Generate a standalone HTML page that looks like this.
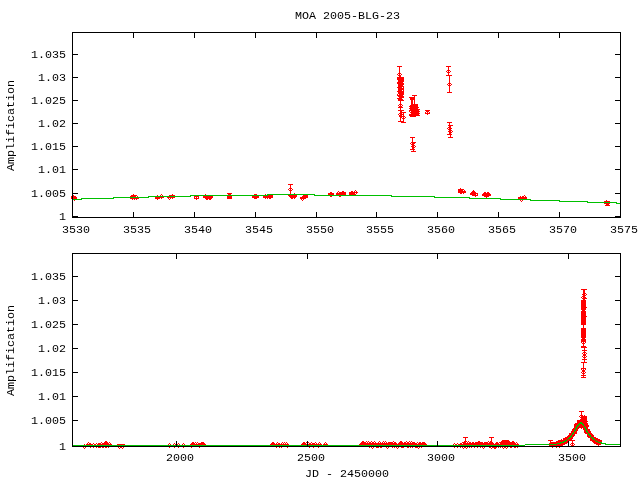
<!DOCTYPE html>
<html><head><meta charset="utf-8"><title>MOA 2005-BLG-23</title>
<style>
html,body{margin:0;padding:0;background:#fff;}
svg{display:block}
text{font-family:"Liberation Mono",monospace;font-size:11.6667px;fill:#000;}
</style></head><body>
<svg width="640" height="480" viewBox="0 0 640 480" shape-rendering="crispEdges">
<rect width="640" height="480" fill="#fff"/>
<path fill="#ff0000" d="M397 66h5v1h-5zM446 66h5v1h-5zM399 67h1v1h-1zM448 67h1v1h-1zM399 68h1v1h-1zM448 68h1v1h-1zM399 69h1v1h-1zM448 69h1v1h-1zM399 70h1v1h-1zM447 70h3v1h-3zM399 71h1v1h-1zM446 71h1v1h-1zM448 71h1v1h-1zM450 71h1v1h-1zM399 72h1v1h-1zM447 72h3v1h-3zM398 73h3v1h-3zM448 73h1v1h-1zM397 74h1v1h-1zM399 74h1v1h-1zM401 74h1v1h-1zM448 74h1v1h-1zM398 75h3v1h-3zM446 75h6v1h-6zM399 76h2v1h-2zM449 76h1v1h-1zM397 77h7v1h-7zM449 77h1v1h-1zM397 78h7v1h-7zM449 78h1v1h-1zM397 79h7v1h-7zM449 79h1v1h-1zM398 80h6v1h-6zM449 80h1v1h-1zM398 81h6v1h-6zM449 81h1v1h-1zM397 82h6v1h-6zM449 82h1v1h-1zM397 83h7v1h-7zM448 83h3v1h-3zM398 84h6v1h-6zM447 84h1v1h-1zM449 84h1v1h-1zM451 84h1v1h-1zM398 85h5v1h-5zM448 85h3v1h-3zM398 86h6v1h-6zM449 86h1v1h-1zM397 87h5v1h-5zM403 87h1v1h-1zM449 87h1v1h-1zM398 88h6v1h-6zM449 88h1v1h-1zM398 89h6v1h-6zM449 89h1v1h-1zM398 90h4v1h-4zM403 90h1v1h-1zM449 90h1v1h-1zM397 91h7v1h-7zM449 91h1v1h-1zM398 92h6v1h-6zM447 92h5v1h-5zM398 93h6v1h-6zM397 94h1v1h-1zM399 94h5v1h-5zM397 95h6v1h-6zM412 95h5v1h-5zM398 96h6v1h-6zM414 96h1v1h-1zM399 97h5v1h-5zM409 97h6v1h-6zM397 98h5v1h-5zM410 98h5v1h-5zM398 99h5v1h-5zM410 99h5v1h-5zM398 100h6v1h-6zM411 100h2v1h-2zM414 100h1v1h-1zM400 101h1v1h-1zM411 101h2v1h-2zM414 101h1v1h-1zM400 102h1v1h-1zM411 102h2v1h-2zM414 102h1v1h-1zM400 103h1v1h-1zM411 103h2v1h-2zM414 103h1v1h-1zM399 104h3v1h-3zM411 104h7v1h-7zM398 105h1v1h-1zM400 105h1v1h-1zM402 105h1v1h-1zM410 105h8v1h-8zM399 106h3v1h-3zM409 106h9v1h-9zM398 107h5v1h-5zM410 107h9v1h-9zM400 108h1v1h-1zM409 108h9v1h-9zM400 109h1v1h-1zM410 109h10v1h-10zM398 110h6v1h-6zM409 110h10v1h-10zM425 110h5v1h-5zM400 111h2v1h-2zM409 111h1v1h-1zM411 111h9v1h-9zM426 111h3v1h-3zM400 112h6v1h-6zM410 112h9v1h-9zM425 112h1v1h-1zM427 112h1v1h-1zM429 112h1v1h-1zM399 113h3v1h-3zM403 113h1v1h-1zM411 113h9v1h-9zM425 113h5v1h-5zM398 114h1v1h-1zM400 114h4v1h-4zM409 114h10v1h-10zM427 114h1v1h-1zM399 115h3v1h-3zM403 115h1v1h-1zM409 115h11v1h-11zM399 116h6v1h-6zM410 116h6v1h-6zM400 117h2v1h-2zM403 117h1v1h-1zM405 117h1v1h-1zM400 118h1v1h-1zM402 118h3v1h-3zM400 119h1v1h-1zM403 119h1v1h-1zM400 120h1v1h-1zM403 120h1v1h-1zM398 121h6v1h-6zM401 122h5v1h-5zM447 122h5v1h-5zM449 123h1v1h-1zM449 124h1v1h-1zM448 125h5v1h-5zM449 126h2v1h-2zM448 127h3v1h-3zM447 128h1v1h-1zM449 128h3v1h-3zM448 129h3v1h-3zM449 130h3v1h-3zM448 131h3v1h-3zM452 131h1v1h-1zM449 132h3v1h-3zM449 133h2v1h-2zM447 134h5v1h-5zM450 135h1v1h-1zM450 136h1v1h-1zM410 137h5v1h-5zM448 137h5v1h-5zM412 138h1v1h-1zM412 139h1v1h-1zM412 140h1v1h-1zM412 141h1v1h-1zM411 142h5v1h-5zM410 143h1v1h-1zM412 143h3v1h-3zM411 144h3v1h-3zM412 145h3v1h-3zM411 146h3v1h-3zM415 146h1v1h-1zM412 147h3v1h-3zM412 148h2v1h-2zM410 149h5v1h-5zM413 150h1v1h-1zM411 151h5v1h-5zM288 184h5v1h-5zM290 185h1v1h-1zM290 186h1v1h-1zM290 187h1v1h-1zM289 188h3v1h-3zM460 188h1v1h-1zM288 189h1v1h-1zM290 189h1v1h-1zM292 189h1v1h-1zM458 189h6v1h-6zM289 190h3v1h-3zM355 190h1v1h-1zM458 190h5v1h-5zM464 190h1v1h-1zM473 190h1v1h-1zM290 191h1v1h-1zM338 191h1v1h-1zM342 191h2v1h-2zM351 191h2v1h-2zM354 191h1v1h-1zM356 191h1v1h-1zM458 191h8v1h-8zM472 191h3v1h-3zM290 192h1v1h-1zM330 192h2v1h-2zM337 192h1v1h-1zM339 192h7v1h-7zM349 192h9v1h-9zM458 192h8v1h-8zM471 192h5v1h-5zM484 192h2v1h-2zM487 192h2v1h-2zM227 193h5v1h-5zM290 193h1v1h-1zM294 193h1v1h-1zM328 193h6v1h-6zM336 193h10v1h-10zM349 193h6v1h-6zM356 193h1v1h-1zM460 193h2v1h-2zM463 193h1v1h-1zM470 193h8v1h-8zM483 193h7v1h-7zM133 194h1v1h-1zM161 194h1v1h-1zM172 194h1v1h-1zM205 194h1v1h-1zM228 194h3v1h-3zM254 194h3v1h-3zM265 194h1v1h-1zM328 194h6v1h-6zM336 194h10v1h-10zM349 194h7v1h-7zM470 194h6v1h-6zM477 194h1v1h-1zM482 194h9v1h-9zM73 195h1v1h-1zM131 195h6v1h-6zM157 195h1v1h-1zM160 195h1v1h-1zM162 195h1v1h-1zM169 195h6v1h-6zM268 195h5v1h-5zM288 195h9v1h-9zM303 195h5v1h-5zM472 195h6v1h-6zM482 195h9v1h-9zM524 195h1v1h-1zM71 196h1v1h-1zM73 196h3v1h-3zM130 196h6v1h-6zM137 196h1v1h-1zM194 196h5v1h-5zM203 196h10v1h-10zM227 196h5v1h-5zM252 196h7v1h-7zM263 196h10v1h-10zM289 196h8v1h-8zM302 196h6v1h-6zM330 196h2v1h-2zM339 196h2v1h-2zM475 196h1v1h-1zM484 196h5v1h-5zM520 196h1v1h-1zM522 196h2v1h-2zM525 196h1v1h-1zM71 197h1v1h-1zM73 197h4v1h-4zM155 197h9v1h-9zM167 197h8v1h-8zM194 197h1v1h-1zM196 197h1v1h-1zM198 197h1v1h-1zM203 197h10v1h-10zM227 197h5v1h-5zM252 197h7v1h-7zM263 197h10v1h-10zM290 197h6v1h-6zM300 197h8v1h-8zM486 197h1v1h-1zM518 197h9v1h-9zM71 198h1v1h-1zM73 198h4v1h-4zM130 198h9v1h-9zM155 198h5v1h-5zM161 198h1v1h-1zM168 198h1v1h-1zM170 198h1v1h-1zM172 198h1v1h-1zM194 198h5v1h-5zM205 198h7v1h-7zM227 198h5v1h-5zM254 198h3v1h-3zM265 198h1v1h-1zM267 198h1v1h-1zM269 198h2v1h-2zM291 198h2v1h-2zM294 198h1v1h-1zM300 198h6v1h-6zM518 198h9v1h-9zM132 199h1v1h-1zM134 199h1v1h-1zM136 199h1v1h-1zM157 199h1v1h-1zM169 199h1v1h-1zM196 199h1v1h-1zM206 199h2v1h-2zM209 199h2v1h-2zM301 199h1v1h-1zM303 199h1v1h-1zM74 200h1v1h-1zM302 200h1v1h-1zM520 200h1v1h-1zM522 200h1v1h-1zM606 200h1v1h-1zM521 201h1v1h-1zM604 201h6v1h-6zM604 203h6v1h-6zM606 204h3v1h-3zM605 205h5v1h-5zM581 289h6v1h-6zM583 290h2v1h-2zM583 291h2v1h-2zM583 292h2v1h-2zM583 293h3v1h-3zM582 294h3v1h-3zM586 294h1v1h-1zM583 295h3v1h-3zM582 296h3v1h-3zM581 297h1v1h-1zM583 297h3v1h-3zM582 298h5v1h-5zM583 299h2v1h-2zM581 300h5v1h-5zM581 301h5v1h-5zM581 302h5v1h-5zM581 303h5v1h-5zM581 304h5v1h-5zM581 305h5v1h-5zM581 306h5v1h-5zM581 307h6v1h-6zM581 308h5v1h-5zM581 309h5v1h-5zM582 310h3v1h-3zM581 311h5v1h-5zM581 312h5v1h-5zM581 313h5v1h-5zM581 314h5v1h-5zM581 315h5v1h-5zM581 316h6v1h-6zM581 317h5v1h-5zM581 318h5v1h-5zM581 319h5v1h-5zM581 320h5v1h-5zM581 321h5v1h-5zM581 322h5v1h-5zM581 323h5v1h-5zM581 324h5v1h-5zM583 325h1v1h-1zM583 326h1v1h-1zM583 327h1v1h-1zM581 328h5v1h-5zM581 329h5v1h-5zM581 330h5v1h-5zM581 331h5v1h-5zM581 332h5v1h-5zM581 333h5v1h-5zM581 334h5v1h-5zM581 335h5v1h-5zM581 336h5v1h-5zM581 337h5v1h-5zM582 338h3v1h-3zM581 339h5v1h-5zM581 340h5v1h-5zM581 341h5v1h-5zM581 342h1v1h-1zM583 342h1v1h-1zM585 342h1v1h-1zM582 343h3v1h-3zM583 344h1v1h-1zM583 345h1v1h-1zM581 346h5v1h-5zM581 347h6v1h-6zM584 348h1v1h-1zM584 349h1v1h-1zM582 350h5v1h-5zM584 351h1v1h-1zM583 352h3v1h-3zM582 353h1v1h-1zM584 353h1v1h-1zM586 353h1v1h-1zM583 354h3v1h-3zM583 355h3v1h-3zM582 356h1v1h-1zM584 356h1v1h-1zM586 356h1v1h-1zM583 357h3v1h-3zM584 358h1v1h-1zM582 359h5v1h-5zM584 360h1v1h-1zM584 361h1v1h-1zM581 362h6v1h-6zM583 363h1v1h-1zM583 364h1v1h-1zM583 365h1v1h-1zM583 366h1v1h-1zM583 367h1v1h-1zM581 368h5v1h-5zM581 369h1v1h-1zM583 369h1v1h-1zM585 369h1v1h-1zM582 370h3v1h-3zM582 371h3v1h-3zM581 372h1v1h-1zM583 372h1v1h-1zM585 372h1v1h-1zM582 373h3v1h-3zM583 374h1v1h-1zM581 375h5v1h-5zM583 376h1v1h-1zM581 377h5v1h-5zM579 411h5v1h-5zM581 412h1v1h-1zM581 413h1v1h-1zM581 414h1v1h-1zM580 415h3v1h-3zM584 415h1v1h-1zM579 416h1v1h-1zM581 416h6v1h-6zM580 417h7v1h-7zM581 418h6v1h-6zM580 419h7v1h-7zM577 420h10v1h-10zM577 421h11v1h-11zM577 422h3v1h-3zM582 422h5v1h-5zM575 423h4v1h-4zM583 423h5v1h-5zM574 424h4v1h-4zM580 424h2v1h-2zM584 424h4v1h-4zM574 425h3v1h-3zM579 425h4v1h-4zM584 425h5v1h-5zM574 426h2v1h-2zM578 426h6v1h-6zM585 426h4v1h-4zM574 427h2v1h-2zM577 427h7v1h-7zM586 427h2v1h-2zM573 428h2v1h-2zM577 428h2v1h-2zM581 428h1v1h-1zM583 428h2v1h-2zM586 428h2v1h-2zM572 429h3v1h-3zM576 429h2v1h-2zM583 429h2v1h-2zM587 429h3v1h-3zM572 430h2v1h-2zM576 430h2v1h-2zM584 430h2v1h-2zM587 430h3v1h-3zM571 431h3v1h-3zM575 431h2v1h-2zM584 431h2v1h-2zM588 431h3v1h-3zM571 432h2v1h-2zM574 432h3v1h-3zM584 432h3v1h-3zM588 432h3v1h-3zM569 433h3v1h-3zM574 433h3v1h-3zM585 433h3v1h-3zM589 433h3v1h-3zM569 434h3v1h-3zM573 434h2v1h-2zM587 434h1v1h-1zM590 434h3v1h-3zM568 435h3v1h-3zM572 435h3v1h-3zM587 435h2v1h-2zM591 435h3v1h-3zM567 436h3v1h-3zM572 436h2v1h-2zM587 436h3v1h-3zM591 436h3v1h-3zM463 437h5v1h-5zM489 437h5v1h-5zM565 437h4v1h-4zM571 437h2v1h-2zM588 437h3v1h-3zM593 437h3v1h-3zM465 438h1v1h-1zM491 438h1v1h-1zM563 438h5v1h-5zM570 438h3v1h-3zM590 438h2v1h-2zM594 438h4v1h-4zM465 439h1v1h-1zM491 439h1v1h-1zM561 439h1v1h-1zM563 439h4v1h-4zM568 439h4v1h-4zM590 439h3v1h-3zM595 439h5v1h-5zM465 440h1v1h-1zM491 440h1v1h-1zM502 440h7v1h-7zM548 440h5v1h-5zM558 440h7v1h-7zM567 440h8v1h-8zM590 440h5v1h-5zM596 440h6v1h-6zM105 441h2v1h-2zM362 441h2v1h-2zM366 441h1v1h-1zM368 441h1v1h-1zM371 441h1v1h-1zM374 441h1v1h-1zM379 441h1v1h-1zM383 441h1v1h-1zM385 441h1v1h-1zM393 441h1v1h-1zM400 441h2v1h-2zM406 441h1v1h-1zM409 441h1v1h-1zM411 441h1v1h-1zM464 441h3v1h-3zM468 441h1v1h-1zM478 441h2v1h-2zM488 441h1v1h-1zM490 441h2v1h-2zM501 441h9v1h-9zM512 441h2v1h-2zM550 441h1v1h-1zM556 441h7v1h-7zM566 441h2v1h-2zM572 441h1v1h-1zM592 441h4v1h-4zM598 441h4v1h-4zM88 442h1v1h-1zM101 442h1v1h-1zM104 442h4v1h-4zM109 442h1v1h-1zM192 442h2v1h-2zM195 442h1v1h-1zM197 442h1v1h-1zM201 442h3v1h-3zM272 442h2v1h-2zM277 442h1v1h-1zM282 442h1v1h-1zM284 442h1v1h-1zM286 442h1v1h-1zM303 442h2v1h-2zM306 442h1v1h-1zM308 442h1v1h-1zM311 442h1v1h-1zM315 442h1v1h-1zM319 442h1v1h-1zM325 442h1v1h-1zM361 442h5v1h-5zM367 442h1v1h-1zM369 442h2v1h-2zM372 442h2v1h-2zM375 442h1v1h-1zM378 442h1v1h-1zM380 442h1v1h-1zM382 442h1v1h-1zM384 442h1v1h-1zM386 442h1v1h-1zM388 442h5v1h-5zM394 442h2v1h-2zM399 442h4v1h-4zM404 442h2v1h-2zM407 442h2v1h-2zM410 442h1v1h-1zM412 442h3v1h-3zM417 442h1v1h-1zM419 442h2v1h-2zM422 442h3v1h-3zM462 442h4v1h-4zM467 442h1v1h-1zM469 442h2v1h-2zM472 442h2v1h-2zM475 442h8v1h-8zM484 442h4v1h-4zM489 442h4v1h-4zM496 442h2v1h-2zM499 442h16v1h-16zM516 442h1v1h-1zM550 442h10v1h-10zM564 442h4v1h-4zM572 442h1v1h-1zM593 442h5v1h-5zM87 443h1v1h-1zM89 443h2v1h-2zM93 443h1v1h-1zM96 443h1v1h-1zM98 443h3v1h-3zM102 443h7v1h-7zM110 443h1v1h-1zM169 443h1v1h-1zM174 443h1v1h-1zM178 443h1v1h-1zM183 443h1v1h-1zM191 443h4v1h-4zM196 443h1v1h-1zM198 443h7v1h-7zM271 443h4v1h-4zM276 443h1v1h-1zM278 443h2v1h-2zM281 443h1v1h-1zM283 443h1v1h-1zM285 443h1v1h-1zM287 443h1v1h-1zM302 443h4v1h-4zM309 443h2v1h-2zM312 443h3v1h-3zM316 443h1v1h-1zM318 443h1v1h-1zM320 443h1v1h-1zM324 443h1v1h-1zM326 443h1v1h-1zM360 443h37v1h-37zM398 443h19v1h-19zM418 443h8v1h-8zM454 443h1v1h-1zM457 443h1v1h-1zM460 443h2v1h-2zM463 443h31v1h-31zM495 443h4v1h-4zM500 443h16v1h-16zM517 443h1v1h-1zM549 443h8v1h-8zM561 443h6v1h-6zM571 443h3v1h-3zM594 443h7v1h-7zM84 444h1v1h-1zM86 444h7v1h-7zM94 444h2v1h-2zM97 444h15v1h-15zM117 444h8v1h-8zM168 444h1v1h-1zM170 444h1v1h-1zM173 444h1v1h-1zM175 444h1v1h-1zM177 444h1v1h-1zM179 444h1v1h-1zM182 444h1v1h-1zM184 444h1v1h-1zM190 444h16v1h-16zM270 444h19v1h-19zM301 444h6v1h-6zM308 444h14v1h-14zM323 444h5v1h-5zM359 444h68v1h-68zM453 444h1v1h-1zM455 444h2v1h-2zM458 444h61v1h-61zM557 444h8v1h-8zM570 444h1v1h-1zM572 444h1v1h-1zM574 444h1v1h-1zM596 444h5v1h-5zM549 445h14v1h-14zM571 445h3v1h-3zM598 445h1v1h-1zM83 447h1v1h-1zM85 447h1v1h-1zM90 447h1v1h-1zM93 447h1v1h-1zM96 447h1v1h-1zM98 447h3v1h-3zM102 447h2v1h-2zM105 447h2v1h-2zM108 447h1v1h-1zM118 447h1v1h-1zM120 447h2v1h-2zM123 447h1v1h-1zM169 447h1v1h-1zM174 447h1v1h-1zM178 447h1v1h-1zM183 447h1v1h-1zM191 447h1v1h-1zM199 447h1v1h-1zM276 447h1v1h-1zM279 447h1v1h-1zM281 447h1v1h-1zM287 447h1v1h-1zM309 447h1v1h-1zM313 447h1v1h-1zM318 447h1v1h-1zM369 447h1v1h-1zM371 447h1v1h-1zM373 447h1v1h-1zM376 447h3v1h-3zM380 447h2v1h-2zM386 447h1v1h-1zM388 447h1v1h-1zM392 447h1v1h-1zM394 447h1v1h-1zM396 447h1v1h-1zM398 447h1v1h-1zM401 447h3v1h-3zM407 447h2v1h-2zM410 447h1v1h-1zM412 447h1v1h-1zM415 447h3v1h-3zM419 447h1v1h-1zM421 447h1v1h-1zM454 447h1v1h-1zM457 447h1v1h-1zM460 447h1v1h-1zM462 447h1v1h-1zM464 447h2v1h-2zM467 447h1v1h-1zM469 447h1v1h-1zM471 447h1v1h-1zM474 447h1v1h-1zM477 447h1v1h-1zM480 447h1v1h-1zM482 447h1v1h-1zM484 447h1v1h-1zM489 447h2v1h-2zM492 447h5v1h-5zM498 447h1v1h-1zM500 447h1v1h-1zM502 447h1v1h-1zM504 447h2v1h-2zM507 447h1v1h-1zM510 447h2v1h-2zM514 447h2v1h-2zM517 447h1v1h-1zM552 447h1v1h-1zM556 447h1v1h-1zM559 447h1v1h-1zM84 448h1v1h-1zM119 448h1v1h-1zM122 448h1v1h-1zM372 448h1v1h-1zM387 448h1v1h-1zM397 448h1v1h-1zM418 448h1v1h-1zM463 448h1v1h-1zM466 448h1v1h-1zM483 448h1v1h-1zM491 448h1v1h-1zM494 448h2v1h-2zM503 448h1v1h-1zM506 448h1v1h-1z"/>
<path fill="#00c000" d="M267 194h48v1h-48zM190 195h78v1h-78zM314 195h78v1h-78zM148 196h43v1h-43zM391 196h44v1h-44zM113 197h36v1h-36zM434 197h36v1h-36zM81 198h33v1h-33zM469 198h32v1h-32zM73 199h9v1h-9zM500 199h31v1h-31zM530 200h30v1h-30zM559 201h29v1h-29zM587 202h30v1h-30zM616 203h4v1h-4zM580 422h2v1h-2zM579 423h4v1h-4zM578 424h2v1h-2zM582 424h2v1h-2zM577 425h2v1h-2zM583 425h1v1h-1zM576 426h2v1h-2zM584 426h1v1h-1zM576 427h1v1h-1zM584 427h2v1h-2zM575 428h2v1h-2zM585 428h1v1h-1zM575 429h1v1h-1zM585 429h2v1h-2zM574 430h2v1h-2zM586 430h1v1h-1zM574 431h1v1h-1zM586 431h2v1h-2zM573 432h1v1h-1zM587 432h1v1h-1zM572 433h2v1h-2zM588 433h1v1h-1zM572 434h1v1h-1zM588 434h2v1h-2zM571 435h1v1h-1zM589 435h2v1h-2zM570 436h2v1h-2zM590 436h1v1h-1zM569 437h2v1h-2zM591 437h2v1h-2zM568 438h2v1h-2zM592 438h2v1h-2zM567 439h1v1h-1zM593 439h2v1h-2zM565 440h2v1h-2zM595 440h1v1h-1zM563 441h3v1h-3zM596 441h2v1h-2zM560 442h4v1h-4zM598 442h4v1h-4zM557 443h4v1h-4zM601 443h5v1h-5zM525 444h32v1h-32zM605 444h15v1h-15zM73 445h103v1h-103zM177 445h130v1h-130zM308 445h129v1h-129zM438 445h87v1h-87z"/>
<path fill="#000000" d="M72 32h549v1h-549zM72 33h1v1h-1zM133 33h1v1h-1zM194 33h1v1h-1zM255 33h1v1h-1zM316 33h1v1h-1zM376 33h1v1h-1zM437 33h1v1h-1zM498 33h1v1h-1zM559 33h1v1h-1zM620 33h1v1h-1zM72 34h1v1h-1zM133 34h1v1h-1zM194 34h1v1h-1zM255 34h1v1h-1zM316 34h1v1h-1zM376 34h1v1h-1zM437 34h1v1h-1zM498 34h1v1h-1zM559 34h1v1h-1zM620 34h1v1h-1zM72 35h1v1h-1zM133 35h1v1h-1zM194 35h1v1h-1zM255 35h1v1h-1zM316 35h1v1h-1zM376 35h1v1h-1zM437 35h1v1h-1zM498 35h1v1h-1zM559 35h1v1h-1zM620 35h1v1h-1zM72 36h1v1h-1zM133 36h1v1h-1zM194 36h1v1h-1zM255 36h1v1h-1zM316 36h1v1h-1zM376 36h1v1h-1zM437 36h1v1h-1zM498 36h1v1h-1zM559 36h1v1h-1zM620 36h1v1h-1zM72 37h1v1h-1zM133 37h1v1h-1zM194 37h1v1h-1zM255 37h1v1h-1zM316 37h1v1h-1zM376 37h1v1h-1zM437 37h1v1h-1zM498 37h1v1h-1zM559 37h1v1h-1zM620 37h1v1h-1zM72 38h1v1h-1zM620 38h1v1h-1zM72 39h1v1h-1zM620 39h1v1h-1zM72 40h1v1h-1zM620 40h1v1h-1zM72 41h1v1h-1zM620 41h1v1h-1zM72 42h1v1h-1zM620 42h1v1h-1zM72 43h1v1h-1zM620 43h1v1h-1zM72 44h1v1h-1zM620 44h1v1h-1zM72 45h1v1h-1zM620 45h1v1h-1zM72 46h1v1h-1zM620 46h1v1h-1zM72 47h1v1h-1zM620 47h1v1h-1zM72 48h1v1h-1zM620 48h1v1h-1zM72 49h1v1h-1zM620 49h1v1h-1zM72 50h1v1h-1zM620 50h1v1h-1zM72 51h1v1h-1zM620 51h1v1h-1zM72 52h1v1h-1zM620 52h1v1h-1zM72 53h1v1h-1zM620 53h1v1h-1zM72 54h6v1h-6zM615 54h6v1h-6zM72 55h1v1h-1zM620 55h1v1h-1zM72 56h1v1h-1zM620 56h1v1h-1zM72 57h1v1h-1zM620 57h1v1h-1zM72 58h1v1h-1zM620 58h1v1h-1zM72 59h1v1h-1zM620 59h1v1h-1zM72 60h1v1h-1zM620 60h1v1h-1zM72 61h1v1h-1zM620 61h1v1h-1zM72 62h1v1h-1zM620 62h1v1h-1zM72 63h1v1h-1zM620 63h1v1h-1zM72 64h1v1h-1zM620 64h1v1h-1zM72 65h1v1h-1zM620 65h1v1h-1zM72 66h1v1h-1zM620 66h1v1h-1zM72 67h1v1h-1zM620 67h1v1h-1zM72 68h1v1h-1zM620 68h1v1h-1zM72 69h1v1h-1zM620 69h1v1h-1zM72 70h1v1h-1zM620 70h1v1h-1zM72 71h1v1h-1zM620 71h1v1h-1zM72 72h1v1h-1zM620 72h1v1h-1zM72 73h1v1h-1zM620 73h1v1h-1zM72 74h1v1h-1zM620 74h1v1h-1zM72 75h1v1h-1zM620 75h1v1h-1zM72 76h1v1h-1zM620 76h1v1h-1zM72 77h6v1h-6zM615 77h6v1h-6zM72 78h1v1h-1zM620 78h1v1h-1zM72 79h1v1h-1zM620 79h1v1h-1zM72 80h1v1h-1zM620 80h1v1h-1zM72 81h1v1h-1zM620 81h1v1h-1zM72 82h1v1h-1zM620 82h1v1h-1zM72 83h1v1h-1zM620 83h1v1h-1zM72 84h1v1h-1zM620 84h1v1h-1zM72 85h1v1h-1zM620 85h1v1h-1zM72 86h1v1h-1zM620 86h1v1h-1zM72 87h1v1h-1zM620 87h1v1h-1zM72 88h1v1h-1zM620 88h1v1h-1zM72 89h1v1h-1zM620 89h1v1h-1zM72 90h1v1h-1zM620 90h1v1h-1zM72 91h1v1h-1zM620 91h1v1h-1zM72 92h1v1h-1zM620 92h1v1h-1zM72 93h1v1h-1zM620 93h1v1h-1zM72 94h1v1h-1zM620 94h1v1h-1zM72 95h1v1h-1zM620 95h1v1h-1zM72 96h1v1h-1zM620 96h1v1h-1zM72 97h1v1h-1zM620 97h1v1h-1zM72 98h1v1h-1zM620 98h1v1h-1zM72 99h1v1h-1zM620 99h1v1h-1zM72 100h6v1h-6zM615 100h6v1h-6zM72 101h1v1h-1zM620 101h1v1h-1zM72 102h1v1h-1zM620 102h1v1h-1zM72 103h1v1h-1zM620 103h1v1h-1zM72 104h1v1h-1zM620 104h1v1h-1zM72 105h1v1h-1zM620 105h1v1h-1zM72 106h1v1h-1zM620 106h1v1h-1zM72 107h1v1h-1zM620 107h1v1h-1zM72 108h1v1h-1zM620 108h1v1h-1zM72 109h1v1h-1zM620 109h1v1h-1zM72 110h1v1h-1zM620 110h1v1h-1zM72 111h1v1h-1zM620 111h1v1h-1zM72 112h1v1h-1zM620 112h1v1h-1zM72 113h1v1h-1zM620 113h1v1h-1zM72 114h1v1h-1zM620 114h1v1h-1zM72 115h1v1h-1zM620 115h1v1h-1zM72 116h1v1h-1zM620 116h1v1h-1zM72 117h1v1h-1zM620 117h1v1h-1zM72 118h1v1h-1zM620 118h1v1h-1zM72 119h1v1h-1zM620 119h1v1h-1zM72 120h1v1h-1zM620 120h1v1h-1zM72 121h1v1h-1zM620 121h1v1h-1zM72 122h1v1h-1zM620 122h1v1h-1zM72 123h6v1h-6zM615 123h6v1h-6zM72 124h1v1h-1zM620 124h1v1h-1zM72 125h1v1h-1zM620 125h1v1h-1zM72 126h1v1h-1zM620 126h1v1h-1zM72 127h1v1h-1zM620 127h1v1h-1zM72 128h1v1h-1zM620 128h1v1h-1zM72 129h1v1h-1zM620 129h1v1h-1zM72 130h1v1h-1zM620 130h1v1h-1zM72 131h1v1h-1zM620 131h1v1h-1zM72 132h1v1h-1zM620 132h1v1h-1zM72 133h1v1h-1zM620 133h1v1h-1zM72 134h1v1h-1zM620 134h1v1h-1zM72 135h1v1h-1zM620 135h1v1h-1zM72 136h1v1h-1zM620 136h1v1h-1zM72 137h1v1h-1zM620 137h1v1h-1zM72 138h1v1h-1zM620 138h1v1h-1zM72 139h1v1h-1zM620 139h1v1h-1zM72 140h1v1h-1zM620 140h1v1h-1zM72 141h1v1h-1zM620 141h1v1h-1zM72 142h1v1h-1zM620 142h1v1h-1zM72 143h1v1h-1zM620 143h1v1h-1zM72 144h1v1h-1zM620 144h1v1h-1zM72 145h1v1h-1zM620 145h1v1h-1zM72 146h6v1h-6zM615 146h6v1h-6zM72 147h1v1h-1zM620 147h1v1h-1zM72 148h1v1h-1zM620 148h1v1h-1zM72 149h1v1h-1zM620 149h1v1h-1zM72 150h1v1h-1zM620 150h1v1h-1zM72 151h1v1h-1zM620 151h1v1h-1zM72 152h1v1h-1zM620 152h1v1h-1zM72 153h1v1h-1zM620 153h1v1h-1zM72 154h1v1h-1zM620 154h1v1h-1zM72 155h1v1h-1zM620 155h1v1h-1zM72 156h1v1h-1zM620 156h1v1h-1zM72 157h1v1h-1zM620 157h1v1h-1zM72 158h1v1h-1zM620 158h1v1h-1zM72 159h1v1h-1zM620 159h1v1h-1zM72 160h1v1h-1zM620 160h1v1h-1zM72 161h1v1h-1zM620 161h1v1h-1zM72 162h1v1h-1zM620 162h1v1h-1zM72 163h1v1h-1zM620 163h1v1h-1zM72 164h1v1h-1zM620 164h1v1h-1zM72 165h1v1h-1zM620 165h1v1h-1zM72 166h1v1h-1zM620 166h1v1h-1zM72 167h1v1h-1zM620 167h1v1h-1zM72 168h1v1h-1zM620 168h1v1h-1zM72 169h6v1h-6zM615 169h6v1h-6zM72 170h1v1h-1zM620 170h1v1h-1zM72 171h1v1h-1zM620 171h1v1h-1zM72 172h1v1h-1zM620 172h1v1h-1zM72 173h1v1h-1zM620 173h1v1h-1zM72 174h1v1h-1zM620 174h1v1h-1zM72 175h1v1h-1zM620 175h1v1h-1zM72 176h1v1h-1zM620 176h1v1h-1zM72 177h1v1h-1zM620 177h1v1h-1zM72 178h1v1h-1zM620 178h1v1h-1zM72 179h1v1h-1zM620 179h1v1h-1zM72 180h1v1h-1zM620 180h1v1h-1zM72 181h1v1h-1zM620 181h1v1h-1zM72 182h1v1h-1zM620 182h1v1h-1zM72 183h1v1h-1zM620 183h1v1h-1zM72 184h1v1h-1zM620 184h1v1h-1zM72 185h1v1h-1zM620 185h1v1h-1zM72 186h1v1h-1zM620 186h1v1h-1zM72 187h1v1h-1zM620 187h1v1h-1zM72 188h1v1h-1zM620 188h1v1h-1zM72 189h1v1h-1zM620 189h1v1h-1zM72 190h1v1h-1zM620 190h1v1h-1zM72 191h1v1h-1zM620 191h1v1h-1zM72 192h1v1h-1zM620 192h1v1h-1zM72 193h6v1h-6zM615 193h6v1h-6zM72 194h1v1h-1zM620 194h1v1h-1zM72 195h1v1h-1zM620 195h1v1h-1zM72 196h1v1h-1zM620 196h1v1h-1zM72 197h1v1h-1zM620 197h1v1h-1zM72 198h1v1h-1zM620 198h1v1h-1zM72 199h1v1h-1zM620 199h1v1h-1zM72 200h1v1h-1zM620 200h1v1h-1zM72 201h1v1h-1zM620 201h1v1h-1zM72 202h1v1h-1zM620 202h1v1h-1zM72 203h1v1h-1zM620 203h1v1h-1zM72 204h1v1h-1zM620 204h1v1h-1zM72 205h1v1h-1zM620 205h1v1h-1zM72 206h1v1h-1zM620 206h1v1h-1zM72 207h1v1h-1zM620 207h1v1h-1zM72 208h1v1h-1zM620 208h1v1h-1zM72 209h1v1h-1zM620 209h1v1h-1zM72 210h1v1h-1zM620 210h1v1h-1zM72 211h1v1h-1zM620 211h1v1h-1zM72 212h1v1h-1zM133 212h1v1h-1zM194 212h1v1h-1zM255 212h1v1h-1zM316 212h1v1h-1zM376 212h1v1h-1zM437 212h1v1h-1zM498 212h1v1h-1zM559 212h1v1h-1zM620 212h1v1h-1zM72 213h1v1h-1zM133 213h1v1h-1zM194 213h1v1h-1zM255 213h1v1h-1zM316 213h1v1h-1zM376 213h1v1h-1zM437 213h1v1h-1zM498 213h1v1h-1zM559 213h1v1h-1zM620 213h1v1h-1zM72 214h1v1h-1zM133 214h1v1h-1zM194 214h1v1h-1zM255 214h1v1h-1zM316 214h1v1h-1zM376 214h1v1h-1zM437 214h1v1h-1zM498 214h1v1h-1zM559 214h1v1h-1zM620 214h1v1h-1zM72 215h1v1h-1zM133 215h1v1h-1zM194 215h1v1h-1zM255 215h1v1h-1zM316 215h1v1h-1zM376 215h1v1h-1zM437 215h1v1h-1zM498 215h1v1h-1zM559 215h1v1h-1zM620 215h1v1h-1zM72 216h6v1h-6zM133 216h1v1h-1zM194 216h1v1h-1zM255 216h1v1h-1zM316 216h1v1h-1zM376 216h1v1h-1zM437 216h1v1h-1zM498 216h1v1h-1zM559 216h1v1h-1zM615 216h6v1h-6zM72 217h549v1h-549zM72 253h549v1h-549zM72 254h1v1h-1zM176 254h1v1h-1zM307 254h1v1h-1zM437 254h1v1h-1zM568 254h1v1h-1zM620 254h1v1h-1zM72 255h1v1h-1zM176 255h1v1h-1zM307 255h1v1h-1zM437 255h1v1h-1zM568 255h1v1h-1zM620 255h1v1h-1zM72 256h1v1h-1zM176 256h1v1h-1zM307 256h1v1h-1zM437 256h1v1h-1zM568 256h1v1h-1zM620 256h1v1h-1zM72 257h1v1h-1zM176 257h1v1h-1zM307 257h1v1h-1zM437 257h1v1h-1zM568 257h1v1h-1zM620 257h1v1h-1zM72 258h1v1h-1zM176 258h1v1h-1zM307 258h1v1h-1zM437 258h1v1h-1zM568 258h1v1h-1zM620 258h1v1h-1zM72 259h1v1h-1zM620 259h1v1h-1zM72 260h1v1h-1zM620 260h1v1h-1zM72 261h1v1h-1zM620 261h1v1h-1zM72 262h1v1h-1zM620 262h1v1h-1zM72 263h1v1h-1zM620 263h1v1h-1zM72 264h1v1h-1zM620 264h1v1h-1zM72 265h1v1h-1zM620 265h1v1h-1zM72 266h1v1h-1zM620 266h1v1h-1zM72 267h1v1h-1zM620 267h1v1h-1zM72 268h1v1h-1zM620 268h1v1h-1zM72 269h1v1h-1zM620 269h1v1h-1zM72 270h1v1h-1zM620 270h1v1h-1zM72 271h1v1h-1zM620 271h1v1h-1zM72 272h1v1h-1zM620 272h1v1h-1zM72 273h1v1h-1zM620 273h1v1h-1zM72 274h1v1h-1zM620 274h1v1h-1zM72 275h1v1h-1zM620 275h1v1h-1zM72 276h6v1h-6zM615 276h6v1h-6zM72 277h1v1h-1zM620 277h1v1h-1zM72 278h1v1h-1zM620 278h1v1h-1zM72 279h1v1h-1zM620 279h1v1h-1zM72 280h1v1h-1zM620 280h1v1h-1zM72 281h1v1h-1zM620 281h1v1h-1zM72 282h1v1h-1zM620 282h1v1h-1zM72 283h1v1h-1zM620 283h1v1h-1zM72 284h1v1h-1zM620 284h1v1h-1zM72 285h1v1h-1zM620 285h1v1h-1zM72 286h1v1h-1zM620 286h1v1h-1zM72 287h1v1h-1zM620 287h1v1h-1zM72 288h1v1h-1zM620 288h1v1h-1zM72 289h1v1h-1zM620 289h1v1h-1zM72 290h1v1h-1zM620 290h1v1h-1zM72 291h1v1h-1zM620 291h1v1h-1zM72 292h1v1h-1zM620 292h1v1h-1zM72 293h1v1h-1zM620 293h1v1h-1zM72 294h1v1h-1zM620 294h1v1h-1zM72 295h1v1h-1zM620 295h1v1h-1zM72 296h1v1h-1zM620 296h1v1h-1zM72 297h1v1h-1zM620 297h1v1h-1zM72 298h1v1h-1zM620 298h1v1h-1zM72 299h1v1h-1zM620 299h1v1h-1zM72 300h6v1h-6zM615 300h6v1h-6zM72 301h1v1h-1zM620 301h1v1h-1zM72 302h1v1h-1zM620 302h1v1h-1zM72 303h1v1h-1zM620 303h1v1h-1zM72 304h1v1h-1zM620 304h1v1h-1zM72 305h1v1h-1zM620 305h1v1h-1zM72 306h1v1h-1zM620 306h1v1h-1zM72 307h1v1h-1zM620 307h1v1h-1zM72 308h1v1h-1zM620 308h1v1h-1zM72 309h1v1h-1zM620 309h1v1h-1zM72 310h1v1h-1zM620 310h1v1h-1zM72 311h1v1h-1zM620 311h1v1h-1zM72 312h1v1h-1zM620 312h1v1h-1zM72 313h1v1h-1zM620 313h1v1h-1zM72 314h1v1h-1zM620 314h1v1h-1zM72 315h1v1h-1zM620 315h1v1h-1zM72 316h1v1h-1zM620 316h1v1h-1zM72 317h1v1h-1zM620 317h1v1h-1zM72 318h1v1h-1zM620 318h1v1h-1zM72 319h1v1h-1zM620 319h1v1h-1zM72 320h1v1h-1zM620 320h1v1h-1zM72 321h1v1h-1zM620 321h1v1h-1zM72 322h1v1h-1zM620 322h1v1h-1zM72 323h1v1h-1zM620 323h1v1h-1zM72 324h6v1h-6zM615 324h6v1h-6zM72 325h1v1h-1zM620 325h1v1h-1zM72 326h1v1h-1zM620 326h1v1h-1zM72 327h1v1h-1zM620 327h1v1h-1zM72 328h1v1h-1zM620 328h1v1h-1zM72 329h1v1h-1zM620 329h1v1h-1zM72 330h1v1h-1zM620 330h1v1h-1zM72 331h1v1h-1zM620 331h1v1h-1zM72 332h1v1h-1zM620 332h1v1h-1zM72 333h1v1h-1zM620 333h1v1h-1zM72 334h1v1h-1zM620 334h1v1h-1zM72 335h1v1h-1zM620 335h1v1h-1zM72 336h1v1h-1zM620 336h1v1h-1zM72 337h1v1h-1zM620 337h1v1h-1zM72 338h1v1h-1zM620 338h1v1h-1zM72 339h1v1h-1zM620 339h1v1h-1zM72 340h1v1h-1zM620 340h1v1h-1zM72 341h1v1h-1zM620 341h1v1h-1zM72 342h1v1h-1zM620 342h1v1h-1zM72 343h1v1h-1zM620 343h1v1h-1zM72 344h1v1h-1zM620 344h1v1h-1zM72 345h1v1h-1zM620 345h1v1h-1zM72 346h1v1h-1zM620 346h1v1h-1zM72 347h1v1h-1zM620 347h1v1h-1zM72 348h6v1h-6zM615 348h6v1h-6zM72 349h1v1h-1zM620 349h1v1h-1zM72 350h1v1h-1zM620 350h1v1h-1zM72 351h1v1h-1zM620 351h1v1h-1zM72 352h1v1h-1zM620 352h1v1h-1zM72 353h1v1h-1zM620 353h1v1h-1zM72 354h1v1h-1zM620 354h1v1h-1zM72 355h1v1h-1zM620 355h1v1h-1zM72 356h1v1h-1zM620 356h1v1h-1zM72 357h1v1h-1zM620 357h1v1h-1zM72 358h1v1h-1zM620 358h1v1h-1zM72 359h1v1h-1zM620 359h1v1h-1zM72 360h1v1h-1zM620 360h1v1h-1zM72 361h1v1h-1zM620 361h1v1h-1zM72 362h1v1h-1zM620 362h1v1h-1zM72 363h1v1h-1zM620 363h1v1h-1zM72 364h1v1h-1zM620 364h1v1h-1zM72 365h1v1h-1zM620 365h1v1h-1zM72 366h1v1h-1zM620 366h1v1h-1zM72 367h1v1h-1zM620 367h1v1h-1zM72 368h1v1h-1zM620 368h1v1h-1zM72 369h1v1h-1zM620 369h1v1h-1zM72 370h1v1h-1zM620 370h1v1h-1zM72 371h1v1h-1zM620 371h1v1h-1zM72 372h6v1h-6zM615 372h6v1h-6zM72 373h1v1h-1zM620 373h1v1h-1zM72 374h1v1h-1zM620 374h1v1h-1zM72 375h1v1h-1zM620 375h1v1h-1zM72 376h1v1h-1zM620 376h1v1h-1zM72 377h1v1h-1zM620 377h1v1h-1zM72 378h1v1h-1zM620 378h1v1h-1zM72 379h1v1h-1zM620 379h1v1h-1zM72 380h1v1h-1zM620 380h1v1h-1zM72 381h1v1h-1zM620 381h1v1h-1zM72 382h1v1h-1zM620 382h1v1h-1zM72 383h1v1h-1zM620 383h1v1h-1zM72 384h1v1h-1zM620 384h1v1h-1zM72 385h1v1h-1zM620 385h1v1h-1zM72 386h1v1h-1zM620 386h1v1h-1zM72 387h1v1h-1zM620 387h1v1h-1zM72 388h1v1h-1zM620 388h1v1h-1zM72 389h1v1h-1zM620 389h1v1h-1zM72 390h1v1h-1zM620 390h1v1h-1zM72 391h1v1h-1zM620 391h1v1h-1zM72 392h1v1h-1zM620 392h1v1h-1zM72 393h1v1h-1zM620 393h1v1h-1zM72 394h1v1h-1zM620 394h1v1h-1zM72 395h1v1h-1zM620 395h1v1h-1zM72 396h6v1h-6zM615 396h6v1h-6zM72 397h1v1h-1zM620 397h1v1h-1zM72 398h1v1h-1zM620 398h1v1h-1zM72 399h1v1h-1zM620 399h1v1h-1zM72 400h1v1h-1zM620 400h1v1h-1zM72 401h1v1h-1zM620 401h1v1h-1zM72 402h1v1h-1zM620 402h1v1h-1zM72 403h1v1h-1zM620 403h1v1h-1zM72 404h1v1h-1zM620 404h1v1h-1zM72 405h1v1h-1zM620 405h1v1h-1zM72 406h1v1h-1zM620 406h1v1h-1zM72 407h1v1h-1zM620 407h1v1h-1zM72 408h1v1h-1zM620 408h1v1h-1zM72 409h1v1h-1zM620 409h1v1h-1zM72 410h1v1h-1zM620 410h1v1h-1zM72 411h1v1h-1zM620 411h1v1h-1zM72 412h1v1h-1zM620 412h1v1h-1zM72 413h1v1h-1zM620 413h1v1h-1zM72 414h1v1h-1zM620 414h1v1h-1zM72 415h1v1h-1zM620 415h1v1h-1zM72 416h1v1h-1zM620 416h1v1h-1zM72 417h1v1h-1zM620 417h1v1h-1zM72 418h1v1h-1zM620 418h1v1h-1zM72 419h1v1h-1zM620 419h1v1h-1zM72 420h6v1h-6zM615 420h6v1h-6zM72 421h1v1h-1zM620 421h1v1h-1zM72 422h1v1h-1zM620 422h1v1h-1zM72 423h1v1h-1zM620 423h1v1h-1zM72 424h1v1h-1zM620 424h1v1h-1zM72 425h1v1h-1zM620 425h1v1h-1zM72 426h1v1h-1zM620 426h1v1h-1zM72 427h1v1h-1zM620 427h1v1h-1zM72 428h1v1h-1zM620 428h1v1h-1zM72 429h1v1h-1zM620 429h1v1h-1zM72 430h1v1h-1zM620 430h1v1h-1zM72 431h1v1h-1zM620 431h1v1h-1zM72 432h1v1h-1zM620 432h1v1h-1zM72 433h1v1h-1zM620 433h1v1h-1zM72 434h1v1h-1zM620 434h1v1h-1zM72 435h1v1h-1zM620 435h1v1h-1zM72 436h1v1h-1zM620 436h1v1h-1zM72 437h1v1h-1zM620 437h1v1h-1zM72 438h1v1h-1zM620 438h1v1h-1zM72 439h1v1h-1zM620 439h1v1h-1zM72 440h1v1h-1zM620 440h1v1h-1zM72 441h1v1h-1zM176 441h1v1h-1zM307 441h1v1h-1zM437 441h1v1h-1zM568 441h1v1h-1zM620 441h1v1h-1zM72 442h1v1h-1zM176 442h1v1h-1zM307 442h1v1h-1zM437 442h1v1h-1zM568 442h1v1h-1zM620 442h1v1h-1zM72 443h1v1h-1zM176 443h1v1h-1zM307 443h1v1h-1zM437 443h1v1h-1zM568 443h1v1h-1zM620 443h1v1h-1zM72 444h1v1h-1zM176 444h1v1h-1zM307 444h1v1h-1zM437 444h1v1h-1zM568 444h1v1h-1zM620 444h1v1h-1zM72 445h1v1h-1zM176 445h1v1h-1zM307 445h1v1h-1zM437 445h1v1h-1zM568 445h1v1h-1zM620 445h1v1h-1zM72 446h549v1h-549z"/>
<g>
<text x="295" y="19" text-anchor="start">MOA 2005-BLG-23</text>
<text x="66" y="58" text-anchor="end">1.035</text>
<text x="66" y="81" text-anchor="end">1.03</text>
<text x="66" y="104" text-anchor="end">1.025</text>
<text x="66" y="127" text-anchor="end">1.02</text>
<text x="66" y="150" text-anchor="end">1.015</text>
<text x="66" y="173" text-anchor="end">1.01</text>
<text x="66" y="197" text-anchor="end">1.005</text>
<text x="66" y="220" text-anchor="end">1</text>
<text x="66" y="280" text-anchor="end">1.035</text>
<text x="66" y="304" text-anchor="end">1.03</text>
<text x="66" y="328" text-anchor="end">1.025</text>
<text x="66" y="352" text-anchor="end">1.02</text>
<text x="66" y="376" text-anchor="end">1.015</text>
<text x="66" y="400" text-anchor="end">1.01</text>
<text x="66" y="424" text-anchor="end">1.005</text>
<text x="66" y="450" text-anchor="end">1</text>
<text x="62" y="233" text-anchor="start">3530</text>
<text x="123" y="233" text-anchor="start">3535</text>
<text x="184" y="233" text-anchor="start">3540</text>
<text x="245" y="233" text-anchor="start">3545</text>
<text x="306" y="233" text-anchor="start">3550</text>
<text x="366" y="233" text-anchor="start">3555</text>
<text x="427" y="233" text-anchor="start">3560</text>
<text x="488" y="233" text-anchor="start">3565</text>
<text x="549" y="233" text-anchor="start">3570</text>
<text x="610" y="233" text-anchor="start">3575</text>
<text x="166" y="461" text-anchor="start">2000</text>
<text x="297" y="461" text-anchor="start">2500</text>
<text x="427" y="461" text-anchor="start">3000</text>
<text x="558" y="461" text-anchor="start">3500</text>
<text x="305" y="477" text-anchor="start">JD - 2450000</text>
<text x="14" y="171" text-anchor="start" transform="rotate(-90 14 171)">Amplification</text>
<text x="14" y="396" text-anchor="start" transform="rotate(-90 14 396)">Amplification</text>
</g>
</svg>
</body></html>
